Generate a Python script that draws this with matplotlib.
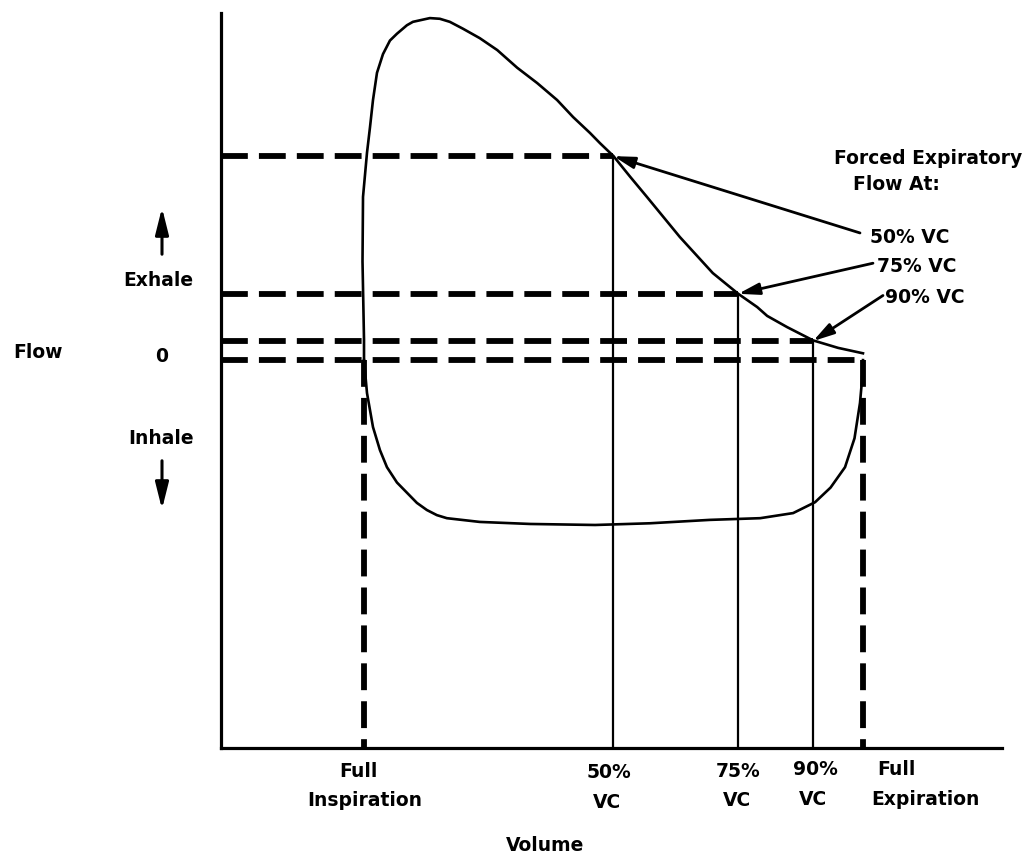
import matplotlib
matplotlib.use("Agg")
import matplotlib.pyplot as plt
from matplotlib.patches import FancyArrowPatch

# ---------------- data (volume in % VC exhaled, flow in arbitrary L/s) ----------------
exp_volume = [0, 0, -0.3, -0.2, 0.6, 1.2, 1.8, 2.6, 3.8, 5.2, 6.6, 8.6, 9.8, 13.2, 15.2, 17.2,
              19.8, 23.2, 26.7, 30.7, 34.7, 38.7, 41.9, 45.3, 47.3, 50, 53.3, 56.7, 63.3, 69.9,
              75, 78.8, 80.8, 84.8, 90, 95, 100]
exp_flow = [0, 0.6, 2.9, 4.8, 6.1, 6.85, 7.65, 8.45, 9.0, 9.4, 9.6, 9.85, 9.95, 10.06, 10.04, 9.95,
            9.75, 9.47, 9.12, 8.6, 8.15, 7.65, 7.15, 6.68, 6.38, 6.0, 5.4, 4.8, 3.62, 2.56,
            1.95, 1.56, 1.3, 0.97, 0.58, 0.36, 0.2]

insp_volume = [0, 0.6, 1.8, 3.2, 4.6, 6.6, 8.6, 10.6, 12.6, 14.6, 16.6, 23.2, 33.3, 46.3, 57.3,
               69.3, 79.4, 86, 90.4, 93.5, 96.4, 98.3, 99.4, 99.8, 100]
insp_flow = [0, -0.97, -1.97, -2.65, -3.15, -3.6, -3.9, -4.2, -4.41, -4.56, -4.65, -4.76, -4.82,
             -4.85, -4.8, -4.7, -4.65, -4.5, -4.18, -3.75, -3.15, -2.3, -1.26, -0.6, 0]

fef_levels = ["50% VC", "75% VC", "90% VC"]
fef_volume = [50, 75, 90]
fef_flow = [6.0, 1.95, 0.56]

full_insp_volume = 0
full_exp_volume = 100

# ---------------- figure ----------------
W, H = 1031, 863
fig = plt.figure(figsize=(W / 100, H / 100), dpi=100)

ax_l, ax_r, ax_t, ax_b = 221, 1002, 13, 748
ax = fig.add_axes([ax_l / W, 1 - ax_b / H, (ax_r - ax_l) / W, (ax_b - ax_t) / H])
ax.set_xlim(-28.66, 127.86)
ax.set_ylim(-11.41, 10.21)
for s in ["top", "right"]:
    ax.spines[s].set_visible(False)
for s in ["left", "bottom"]:
    ax.spines[s].set_linewidth(2.3)
    ax.spines[s].set_color("black")
ax.set_xticks([])
ax.set_yticks([])
ax.patch.set_alpha(0)

xmin = ax.get_xlim()[0]
ymin = ax.get_ylim()[0]
dash = dict(color="black", lw=4.2, linestyle=(0, (4.6, 1.9)), solid_capstyle="butt",
            dash_capstyle="butt", zorder=2)

# horizontal dashed lines at each FEF level and at zero
for v, f in zip(fef_volume, fef_flow):
    ax.plot([xmin, v], [f, f], **dash)
ax.plot([xmin, full_exp_volume], [0, 0], **dash)
# vertical dashed lines at full inspiration / full expiration
ax.plot([full_insp_volume, full_insp_volume], [0, ymin], **dash)
ax.plot([full_exp_volume, full_exp_volume], [0, ymin], **dash)

# solid verticals at the FEF volumes
for v, f in zip(fef_volume, fef_flow):
    ax.plot([v, v], [f, ymin], color="black", lw=1.6, zorder=3)

# the flow-volume loop
ax.plot(exp_volume, exp_flow, color="black", lw=1.9, zorder=4, solid_joinstyle="round")
ax.plot(insp_volume, insp_flow, color="black", lw=1.9, zorder=4, solid_joinstyle="round")

font = dict(family="DejaVu Sans", fontweight="bold", fontsize=13.5, color="black")

# annotation arrows to the FEF points
arrow_tails = [(99.4, 3.74), (102.0, 2.85), (104.0, 1.9)]
text_pos = [(101.4, 3.62), (102.8, 2.74), (104.4, 1.85)]
for lab, v, f, tail, tp in zip(fef_levels, fef_volume, fef_flow, arrow_tails, text_pos):
    ax.annotate("", xy=(v, f), xytext=tail,
                arrowprops=dict(arrowstyle="-|>,head_length=0.9,head_width=0.25",
                                color="black", lw=2.0, shrinkA=0, shrinkB=0,
                                mutation_scale=14),
                annotation_clip=False, zorder=5)
    ax.text(tp[0], tp[1], lab, ha="left", va="center", clip_on=False, **font)

fig.text(928 / W, 1 - 158 / H, "Forced Expiratory", ha="center", va="center", **font)
fig.text(896 / W, 1 - 185 / H, "Flow At:", ha="center", va="center", **font)

# left-hand labels
fig.text(38 / W, 1 - 353 / H, "Flow", ha="center", va="center", **font)
fig.text(162 / W, 1 - 356 / H, "0", ha="center", va="center", **font)
fig.text(158 / W, 1 - 280 / H, "Exhale", ha="center", va="center", **font)
fig.text(161 / W, 1 - 438 / H, "Inhale", ha="center", va="center", **font)
for y0, y1 in [(257, 205), (458, 512)]:
    fig.add_artist(FancyArrowPatch(
        (162 / W, 1 - y0 / H), (162 / W, 1 - y1 / H), transform=fig.transFigure,
        arrowstyle="-|>,head_length=0.8,head_width=0.2", color="black", lw=2.2,
        mutation_scale=20))

# bottom labels
bottom = [("Full", 358, 771), ("Inspiration", 365, 800),
          ("50%", 609, 773), ("VC", 607, 802),
          ("75%", 738, 771), ("VC", 737, 800),
          ("90%", 815, 769), ("VC", 813, 799),
          ("Full", 896, 769), ("Expiration", 925, 799),
          ("Volume", 545, 845)]
for t, x, y in bottom:
    fig.text(x / W, 1 - y / H, t, ha="center", va="center", **font)

fig.savefig("out.png", dpi=100)
